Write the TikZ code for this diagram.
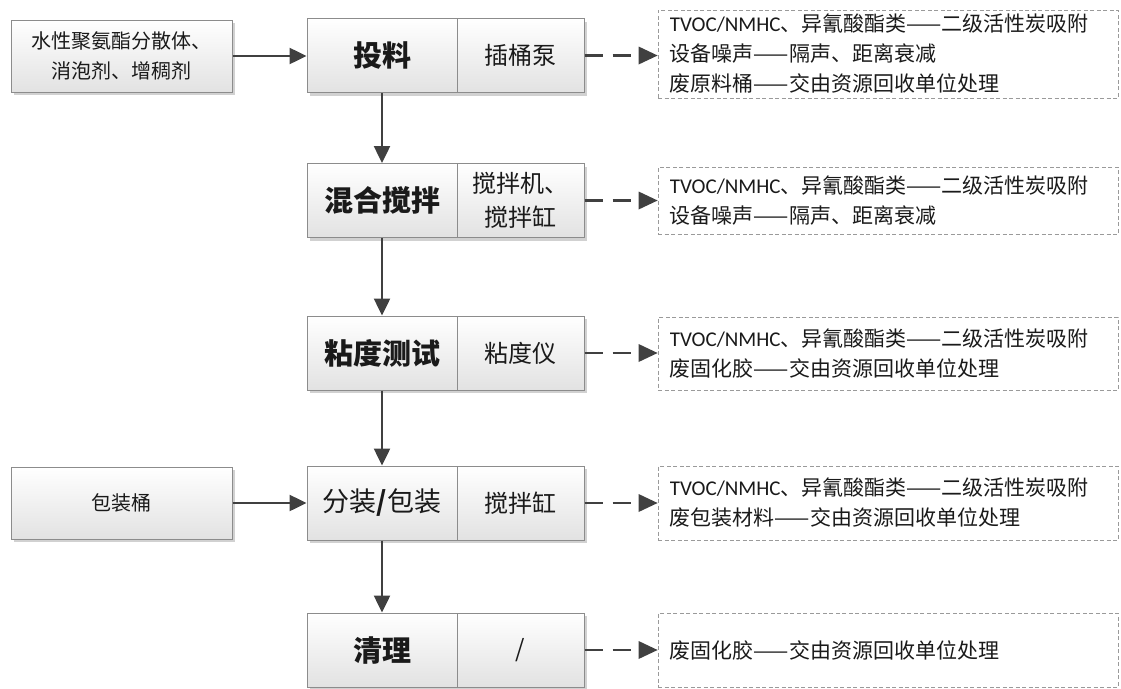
\documentclass[tikz,border=0pt]{standalone}
\usepackage{fontspec}
\setmainfont{Noto Sans CJK SC}
\newfontfamily\latf{Carlito}
\usetikzlibrary{arrows.meta,shadows}
\definecolor{boxline}{HTML}{8C8C8C}
\definecolor{boxbot}{HTML}{E2E2E2}
\definecolor{arr}{HTML}{404040}
\definecolor{dline}{HTML}{9A9A9A}
\definecolor{txt}{HTML}{1A1A1A}
\begin{document}
\begin{tikzpicture}[x=1pt,y=-1pt,
  box/.style={draw=boxline,line width=1pt,top color=white,bottom color=boxbot,
    minimum height=74pt,inner sep=0pt,text=txt,align=center,
    drop shadow={shadow xshift=3pt,shadow yshift=-3pt,fill=black!18,opacity=1}},
  namebox/.style={box,minimum width=150pt,font=\fontsize{29}{34}\selectfont\bfseries},
  toolbox/.style={box,minimum width=127pt,font=\fontsize{24}{34}\selectfont},
  inbox/.style={box,minimum width=221pt,minimum height=72pt,font=\fontsize{20}{30}\selectfont},
  dbox/.style={draw=dline,line width=0.8pt,dash pattern=on 4pt off 2.5pt,minimum width=460pt,inner sep=0pt},
  rtext/.style={anchor=west,align=left,inner sep=0pt,text=txt,font=\fontsize{21}{30}\selectfont},
  arrow/.style={draw=arr,line width=2.5pt,-{Triangle[length=17pt,width=16pt]}},
  darrow/.style={draw=arr,line width=2.5pt,dash pattern=on 18pt off 10pt,-{Triangle[length=19pt,width=18pt,line width=0pt,fill=arr]}}
]
\useasboundingbox (0,0) rectangle (1121,688);

% input boxes
\node[inbox] (in1) at (121.5,56) {水性聚氨酯分散体、\\消泡剂、增稠剂};
\node[inbox] (in2) at (121.5,503) {包装桶};

% process steps
\node[namebox] (p1) at (382,55.5) {投料};
\node[toolbox] (q1) at (520.5,55.5) {插桶泵};
\node[namebox] (p2) at (382,200.5) {混合搅拌};
\node[toolbox] (q2) at (520.5,200.5) {搅拌机、\\搅拌缸};
\node[namebox] (p3) at (382,353) {粘度测试};
\node[toolbox] (q3) at (520.5,353) {粘度仪};
\node[namebox,font=\fontsize{27}{34}\selectfont] (p4) at (382,503) {分装\textbf{/}包装};
\node[toolbox] (q4) at (520.5,503) {搅拌缸};
\node[namebox] (p5) at (382,650) {清理};
\node[toolbox] (q5) at (520.5,650) {/};

% output boxes
\node[dbox,minimum height=88pt] (r1) at (888,54) {};
\node[rtext] (t1) at ([xshift=12pt]r1.west) {{\latf TVOC/NMHC}、异氰酸酯类——二级活性炭吸附\\设备噪声——隔声、距离衰减\\废原料桶——交由资源回收单位处理};
\node[dbox,minimum height=67pt] (r2) at (888,200.5) {};
\node[rtext] (t2) at ([xshift=12pt]r2.west) {{\latf TVOC/NMHC}、异氰酸酯类——二级活性炭吸附\\设备噪声——隔声、距离衰减};
\node[dbox,minimum height=73pt] (r3) at (888,353.5) {};
\node[rtext] (t3) at ([xshift=12pt]r3.west) {{\latf TVOC/NMHC}、异氰酸酯类——二级活性炭吸附\\废固化胶——交由资源回收单位处理};
\node[dbox,minimum height=74pt] (r4) at (888,503) {};
\node[rtext] (t4) at ([xshift=12pt]r4.west) {{\latf TVOC/NMHC}、异氰酸酯类——二级活性炭吸附\\废包装材料——交由资源回收单位处理};
\node[dbox,minimum height=74pt] (r5) at (888,650) {};
\node[rtext] (t5) at ([xshift=12pt]r5.west) {废固化胶——交由资源回收单位处理};

% connectors
\draw[arrow] (in1.east) -- (in1.east -| p1.west);
\draw[arrow] (in2.east) -- (in2.east -| p4.west);
\draw[arrow] (p1.south) -- (p2.north);
\draw[arrow] (p2.south) -- (p3.north);
\draw[arrow] (p3.south) -- (p4.north);
\draw[arrow] (p4.south) -- (p5.north);
\draw[darrow] (q1.east) -- (q1.east -| r1.west);
\draw[darrow] (q2.east) -- (q2.east -| r2.west);
\draw[darrow] (q3.east) -- (q3.east -| r3.west);
\draw[darrow] (q4.east) -- (q4.east -| r4.west);
\draw[darrow] (q5.east) -- (q5.east -| r5.west);
\end{tikzpicture}
\end{document}
